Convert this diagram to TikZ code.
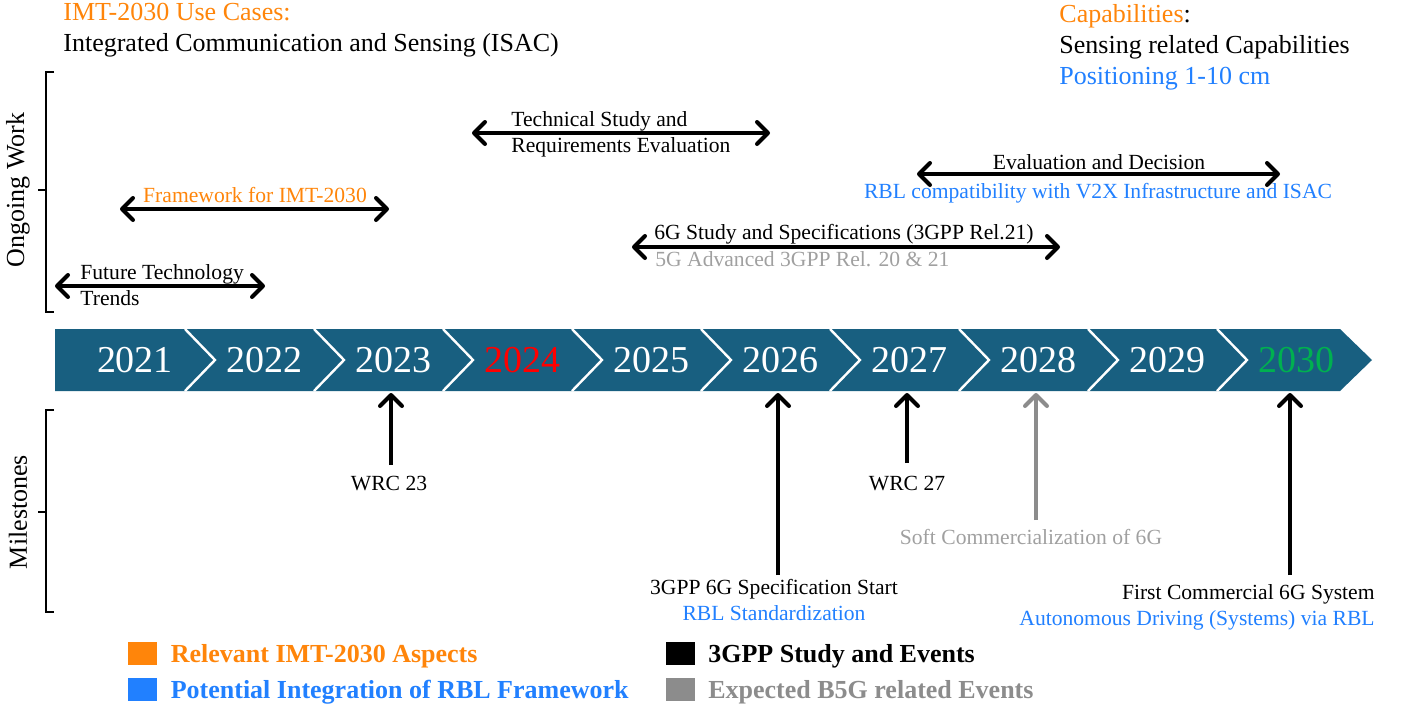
\documentclass[tikz,border=0pt]{standalone}
\usepackage{fontspec}
\setmainfont{Liberation Serif}
\usetikzlibrary{arrows.meta,positioning}

\definecolor{tlblue}{RGB}{24,95,128}
\definecolor{imtorange}{RGB}{255,133,10}
\definecolor{rblblue}{RGB}{33,128,255}
\definecolor{bgray}{RGB}{140,140,140}
\definecolor{lgray}{RGB}{160,160,160}
\definecolor{ygreen}{RGB}{0,176,80}

\tikzset{
  barb/.tip={Straight Barb[length=5.5pt,width=11pt,line cap=round,line join=round]},
  span/.style={line width=2pt, barb-barb},
  mile/.style={line width=2pt, -barb},
  brace/.style={line width=1.4pt},
  lbl/.style={inner sep=0pt, font=\fontsize{10.8}{13}\selectfont},
  toptext/.style={inner sep=0pt, align=left, anchor=west, font=\fontsize{13}{15.5}\selectfont},
  side/.style={inner sep=0pt, rotate=90, font=\fontsize{13}{15}\selectfont},
  year/.style={inner sep=0pt, font=\fontsize{19}{21}\selectfont},
  keybox/.style={minimum width=14.5pt, minimum height=11.5pt, inner sep=0pt},
  keytext/.style={inner sep=0pt, yshift=-1.5pt, font=\fontsize{13}{15}\selectfont\bfseries},
}

\begin{document}
\begin{tikzpicture}[x=0.5pt,y=-0.5pt]
  \useasboundingbox (0,0) rectangle (1404,708);

  \node[toptext] (usecases) at (63,30) {\textcolor{imtorange}{IMT-2030 Use Cases:}\\Integrated Communication and Sensing (ISAC)};
  \node[toptext] (capab) at (1059,47) {\textcolor{imtorange}{Capabilities}:\\Sensing related Capabilities\\\textcolor{rblblue}{Positioning 1-10 cm}};

  \draw[brace] (54,72) -- (46,72) -- (46,312) -- (54,312) (46,190) -- (38,190);
  \draw[brace] (54,410) -- (46,410) -- (46,612) -- (54,612) (46,512) -- (38,512);
  \node[side] (ongoing) at (18,190) {Ongoing Work};
  \node[side] (miles) at (18,512) {Milestones};

  \fill[tlblue] (55,329) -- (1340,329) -- (1372,360) -- (1340,391) -- (55,391) -- cycle;
  \foreach \k in {0,...,8}
    \draw[white, line width=1.2pt] ({185+129*\k},329) -- ({215+129*\k},360) -- ({185+129*\k},391);
  \foreach \yr/\col [count=\k from 0] in {2021/white,2022/white,2023/white,2024/red,2025/white,
      2026/white,2027/white,2028/white,2029/white,2030/ygreen}
    \node[year, text=\col] (y\yr) at ({135+129*\k},360) {\yr};
  \coordinate (tlbot) at (0,393);

  \coordinate (ftL) at (55,286);
  \coordinate (ftR) at (265,286);
  \draw[span] (ftL) -- (ftR);
  \node[lbl, align=left, anchor=west] (ftt) at (80,285) {Future Technology\\Trends};

  \coordinate (fwL) at (120,209);
  \coordinate (fwR) at (389,209);
  \draw[span] (fwL) -- (fwR);
  \node[lbl, text=imtorange] (fw) at (255,195) {Framework for IMT-2030};

  \coordinate (tsL) at (472,133);
  \coordinate (tsR) at (770,133);
  \draw[span] (tsL) -- (tsR);
  \node[lbl, align=left, anchor=west] (ts) at (511,134) {Technical Study and\\Requirements Evaluation};

  \coordinate (edL) at (917,174);
  \coordinate (edR) at (1280,174);
  \draw[span] (edL) -- (edR);
  \node[lbl] (ed) at (1099,162) {Evaluation and Decision};
  \node[lbl, text=rblblue] (v2x) at (1098,193) {RBL compatibility with V2X Infrastructure and ISAC};

  \coordinate (sgL) at (632,247);
  \coordinate (sgR) at (1060,247);
  \draw[span] (sgL) -- (sgR);
  \node[lbl] (sg) at (844,234) {6G Study and Specifications (3GPP Rel.21)};
  \node[lbl, text=lgray, anchor=west] (adv) at (655,259) {5G Advanced 3GPP Rel. 20 \& 21};

  \node[lbl] (wrc23) at (389,484) {WRC 23};
  \node[lbl, align=center] (spec) at (774,600) {3GPP 6G Specification Start\\\textcolor{rblblue}{RBL Standardization}};
  \node[lbl] (wrc27) at (907,484) {WRC 27};
  \node[lbl, text=lgray] (soft) at (1031,537) {Soft Commercialization of 6G};
  \node[lbl, align=right, anchor=east] (first) at (1375,607) {First Commercial 6G System\\\textcolor{rblblue}{Autonomous Driving (Systems) via RBL}};

  \coordinate (m23) at (391,465);
  \coordinate (m26) at (778,575);
  \coordinate (m27) at (907,463);
  \coordinate (m28) at (1036,520);
  \coordinate (m30) at (1290,575);
  \draw[mile] (m23) -- (m23 |- tlbot);
  \draw[mile] (m26) -- (m26 |- tlbot);
  \draw[mile] (m27) -- (m27 |- tlbot);
  \draw[mile, bgray] (m28) -- (m28 |- tlbot);
  \draw[mile] (m30) -- (m30 |- tlbot);

  \node[keybox, fill=imtorange] (k1) at (142.5,653.5) {};
  \node[keytext, text=imtorange, right=6.5pt of k1] (t1) {Relevant IMT-2030 Aspects};
  \node[keybox, fill=rblblue] (k2) at (142.5,689.5) {};
  \node[keytext, text=rblblue, right=6.5pt of k2] (t2) {Potential Integration of RBL Framework};
  \node[keybox, fill=black] (k3) at (680,653.5) {};
  \node[keytext, right=6.5pt of k3] (t3) {3GPP Study and Events};
  \node[keybox, fill=bgray] (k4) at (680,689.5) {};
  \node[keytext, text=bgray, right=6.5pt of k4] (t4) {Expected B5G related Events};
\end{tikzpicture}
\end{document}
